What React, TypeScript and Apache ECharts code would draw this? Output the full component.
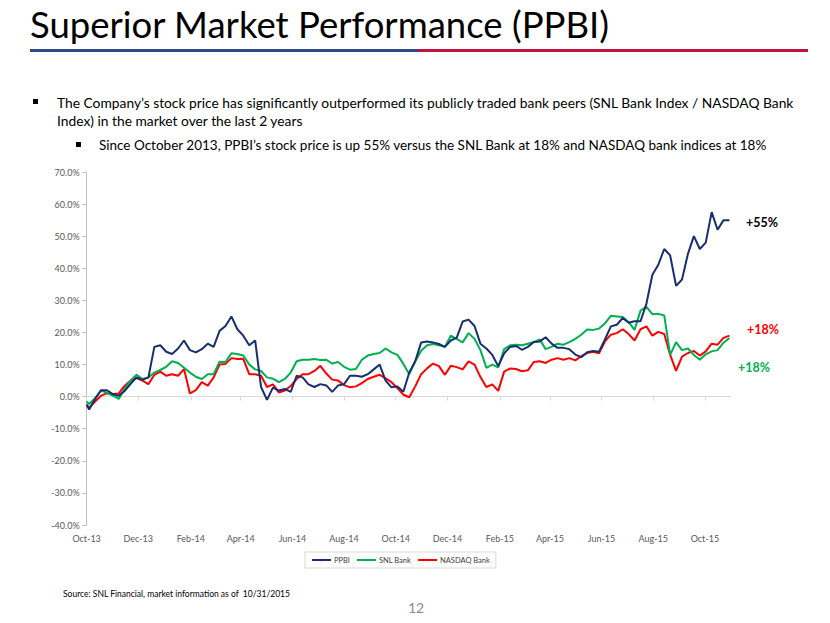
import { useEffect, useRef } from 'react';
import * as echarts from 'echarts';

// ---- data (percent change since Oct-2013), first point Oct 1 2013, then weekly Fridays ----
const seriesNames = ['PPBI', 'SNL Bank', 'NASDAQ Bank'];

const ppbi = [
  -2.5,
  -4, -0.7, 2.0, 2.0, 0.8, 0.3, 1.8, 4.0, 6.0, 5.2,
  6.0, 15.5, 16.0, 14.0, 13.3, 15.0, 17.5, 14.5, 13.8, 14.8,
  16.5, 15.5, 20.5, 22.0, 25.0, 21.0, 19.0, 16.0, 17.5, 3.0,
  -1.0, 2.8, 1.9, 2.4, 1.5, 6.5, 6.0, 3.8, 3.0, 3.9,
  3.5, 1.5, 3.5, 3.9, 6.5, 6.5, 6.2, 7.0, 8.5, 10.0,
  5.0, 2.9, 3.2, 1.5, 7.5, 11.0, 16.9, 17.2, 16.9, 16.4,
  15.5, 17.5, 18.4, 23.4, 24.0, 22.0, 16.5, 15.0, 13.0, 9.5,
  13.5, 15.5, 15.8, 14.6, 15.5, 17.0, 17.2, 18.5, 16.5, 15.2,
  15.2, 14.8, 13.1, 12.3, 13.8, 14.2, 14.0, 17.8, 21.9, 22.4,
  24.5, 23.0, 23.5, 23.5, 29.0, 38.0, 41.1, 46.0, 44.0, 34.5,
  36.5, 44.5, 50.0, 46.0, 48.0, 57.5, 52.0, 55.0, 55.0,
];

const snl = [
  -1.5,
  -2.3, -0.5, 1.9, 1.2, 0.3, -0.7, 2.5, 5.0, 6.8, 5.5,
  6.0, 7.5, 8.3, 9.3, 11.0, 10.5, 9.0, 7.5, 6.2, 5.5,
  7.0, 7.0, 10.9, 10.8, 13.5, 13.3, 12.8, 10.0, 8.5, 8.0,
  6.0, 5.6, 4.5, 5.5, 7.5, 11.0, 11.5, 11.5, 11.7, 11.4,
  11.5, 10.3, 10.8, 9.3, 8.4, 8.6, 11.5, 12.8, 13.3, 13.6,
  15.0, 13.8, 13.0, 10.2, 7.0, 11.0, 14.3, 16.0, 16.4, 16.0,
  15.5, 19.0, 18.0, 16.9, 19.8, 18.0, 14.5, 9.0, 10.0, 9.1,
  14.8, 16.0, 16.2, 16.0, 16.5, 17.0, 17.8, 14.8, 15.5, 16.5,
  16.2, 17.0, 18.0, 19.3, 20.9, 20.8, 21.2, 22.8, 25.2, 25.0,
  24.8, 23.2, 20.8, 26.8, 28.0, 25.7, 25.8, 25.3, 13.0, 17.0,
  14.5, 15.0, 13.0, 11.5, 13.2, 14.1, 14.5, 16.8, 18.3,
];

const nasdaq = [
  -2.5,
  -3.5, -1.5, 0.3, 1.0, 0.8, 1.0, 3.4, 5.0, 5.8, 5.0,
  3.9, 6.8, 7.8, 6.5, 7.0, 6.5, 8.6, 1.0, 2.0, 4.5,
  3.4, 6.0, 10.0, 10.2, 12.0, 11.7, 11.8, 7.0, 7.0, 6.5,
  3.0, 3.8, 1.3, 1.9, 3.3, 5.5, 7.0, 7.0, 8.0, 9.6,
  7.2, 5.3, 5.0, 3.6, 2.9, 3.2, 4.2, 5.5, 6.2, 6.8,
  5.7, 4.5, 2.7, 0.6, -0.2, 3.2, 7.0, 8.8, 10.3, 9.5,
  6.8, 9.6, 9.2, 8.5, 11.0, 10.0, 6.1, 3.0, 3.8, 1.8,
  7.8, 8.8, 8.6, 7.9, 8.2, 10.8, 11.0, 10.5, 11.5, 12.0,
  11.5, 12.0, 11.3, 12.6, 13.6, 14.0, 13.5, 17.2, 19.3, 19.8,
  21.0, 19.5, 17.5, 21.0, 21.9, 19.0, 20.2, 19.5, 13.0, 8.0,
  12.5, 13.6, 14.2, 12.8, 14.1, 16.5, 16.2, 18.3, 19.0,
];

const monthLabels = [
  'Oct-13', 'Dec-13', 'Feb-14', 'Apr-14', 'Jun-14', 'Aug-14', 'Oct-14',
  'Dec-14', 'Feb-15', 'Apr-15', 'Jun-15', 'Aug-15', 'Oct-15',
];

const endLabels = ['+55%', '+18%', '+18%'];

// dates: Oct 1 2013 then weekly Fridays starting Oct 4 2013
const dates: number[] = [new Date(2013, 9, 1).getTime()];
for (let k = 0; k < ppbi.length - 1; k++) dates.push(new Date(2013, 9, 4 + 7 * k).getTime());

const monthTicks = monthLabels.map((_, i) => new Date(2013, 9 + 2 * i, 1).getTime());
const xMin = new Date(2013, 9, 1).getTime();
const xMax = new Date(2015, 9, 31).getTime();

const COLORS = ['#172F6E', '#00B050', '#FF0000'];
const FONT = 'Lato';

export default function App() {
  const ref = useRef<HTMLDivElement>(null);
  useEffect(() => {
    if (!ref.current) return;
    const chart = echarts.init(ref.current, undefined, { renderer: 'svg' });
    const mk = (vals: number[]) => dates.map((d, i) => [d, vals[i]]);
    chart.setOption({
      animation: false,
      backgroundColor: '#ffffff',
      textStyle: { fontFamily: FONT },
      grid: { left: 86.6, right: 99.7, top: 172, bottom: 98, containLabel: false },
      xAxis: [
        {
          type: 'value',
          min: xMin,
          max: xMax,
          position: 'bottom',
          axisLine: { show: false, onZero: false },
          axisTick: { show: false },
          splitLine: { show: false },
          axisLabel: {
            customValues: monthTicks,
            color: '#595959',
            fontSize: 9,
            fontFamily: FONT,
            margin: 9,
            formatter: (v: number) => {
              const i = monthTicks.findIndex((t) => Math.abs(t - v) < 86400000);
              return i >= 0 ? monthLabels[i] : '';
            },
          },
        },
        {
          type: 'value',
          min: xMin,
          max: xMax,
          position: 'bottom',
          axisLine: { show: true, onZero: true, lineStyle: { color: '#D9D9D9', width: 1 } },
          axisTick: { show: true, customValues: monthTicks, length: 4, lineStyle: { color: '#D9D9D9' } },
          axisLabel: { show: false },
          splitLine: { show: false },
        },
      ],
      yAxis: {
        type: 'value',
        min: -40,
        max: 70,
        interval: 10,
        axisLine: { show: true, lineStyle: { color: '#BFBFBF' } },
        axisTick: { show: true, length: 4, lineStyle: { color: '#BFBFBF' } },
        splitLine: { show: false },
        axisLabel: {
          color: '#595959',
          fontSize: 9,
          fontFamily: FONT,
          margin: 7,
          formatter: (v: number) => v.toFixed(1) + '%',
        },
      },
      legend: {
        data: seriesNames,
        left: 305,
        top: 552,
        orient: 'horizontal',
        itemWidth: 19,
        itemHeight: 3,
        itemGap: 6,
        padding: [4, 6, 4, 6],
        borderColor: '#D9D9D9',
        borderWidth: 1,
        textStyle: { fontSize: 7.5, color: '#404040', fontFamily: FONT, padding: [0, 0, 0, -2] },
      },
      series: [ppbi, snl, nasdaq].map((vals, i) => ({
        name: seriesNames[i],
        type: 'line',
        data: mk(vals),
        xAxisIndex: 0,
        symbol: 'none',
        showSymbol: false,
        lineStyle: { color: COLORS[i], width: 2 },
        itemStyle: { color: COLORS[i] },
        z: 3 - i,
      })),
      graphic: [
        {
          type: 'text',
          left: 30,
          top: 5,
          style: { text: 'Superior Market Performance (PPBI)', fontSize: 36.5, fontFamily: FONT, fill: '#000' },
        },
        { type: 'rect', shape: { x: 30, y: 49, width: 388, height: 3 }, style: { fill: '#2E4A8B' } },
        { type: 'rect', shape: { x: 418, y: 49, width: 390, height: 3 }, style: { fill: '#C0143C' } },
        { type: 'rect', shape: { x: 33, y: 99, width: 5, height: 5 }, style: { fill: '#000' } },
        {
          type: 'text',
          x: 57,
          y: 102,
          style: {
            text: 'The Company\u2019s stock price has significantly outperformed its publicly traded bank peers (SNL Bank Index / NASDAQ Bank',
            fontSize: 13.8,
            fontFamily: FONT,
            fill: '#000',
            verticalAlign: 'middle',
          },
        },
        {
          type: 'text',
          x: 57,
          y: 120,
          style: {
            text: 'Index) in the market over the last 2 years',
            fontSize: 13.8,
            fontFamily: FONT,
            fill: '#000',
            verticalAlign: 'middle',
          },
        },
        { type: 'rect', shape: { x: 76, y: 142, width: 5, height: 5 }, style: { fill: '#000' } },
        {
          type: 'text',
          x: 99,
          y: 145,
          style: {
            text: 'Since October 2013, PPBI\u2019s stock price is up 55% versus the SNL Bank at 18% and NASDAQ bank indices at 18%',
            fontSize: 13.5,
            fontFamily: FONT,
            fill: '#000',
            verticalAlign: 'middle',
          },
        },
        {
          type: 'text', x: 746, y: 222,
          style: { text: endLabels[0], fontSize: 12.5, fontWeight: 'bold', fontFamily: FONT, fill: '#000', verticalAlign: 'middle' },
        },
        {
          type: 'text', x: 747, y: 329,
          style: { text: endLabels[1], fontSize: 12.5, fontWeight: 'bold', fontFamily: FONT, fill: '#FF0000', verticalAlign: 'middle' },
        },
        {
          type: 'text', x: 738, y: 367,
          style: { text: endLabels[2], fontSize: 12.5, fontWeight: 'bold', fontFamily: FONT, fill: '#00B050', verticalAlign: 'middle' },
        },
        {
          type: 'text', x: 63, y: 594,
          style: { text: 'Source: SNL Financial, market information as of  10/31/2015', fontSize: 8.5, fontFamily: FONT, fill: '#000', verticalAlign: 'middle' },
        },
        {
          type: 'text', x: 408, y: 607,
          style: { text: '12', fontSize: 14, fontFamily: FONT, fill: '#8C8C8C', verticalAlign: 'middle' },
        },
      ],
    });
    return () => chart.dispose();
  }, []);
  return <div ref={ref} style={{ position: 'absolute', left: 0, top: 0, width: 830, height: 623 }} />;
}
